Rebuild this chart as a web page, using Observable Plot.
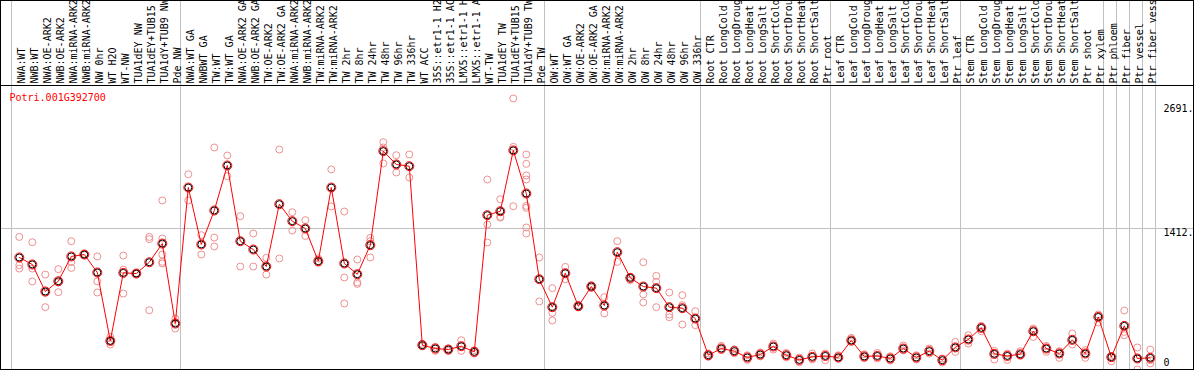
<!DOCTYPE html>
<html><head><meta charset="utf-8">
<script src="https://cdn.jsdelivr.net/npm/d3@7"></script>
<script src="https://cdn.jsdelivr.net/npm/@observablehq/plot@0.6"></script>
<style>
html,body{margin:0;padding:0;background:#fff;}
#chart svg{display:block;outline:1px solid #000;outline-offset:-1px;}
</style></head><body><div id="chart"></div>
<script>
const geneId = "Potri.001G392700";

const samples = [
  "NWA:WT","NWB:WT","NWA:OE-ARK2","NWB:OE-ARK2","NWA:miRNA-ARK2","NWB:miRNA-ARK2","NW 0hr","WT H2O","WT-NW","TUA1dEY NW","TUA1dEY+TUB15 NW","TUA1dY+TUB9 NW","Pde NW",
  "NWA:WT GA","NWBWT GA","TW:WT","TW:WT GA","NWA:OE-ARK2 GA","NWB:OE-ARK2 GA","TW:OE-ARK2","TW:OE-ARK2 GA","NWA:miRNA-ARK2","NWB:miRNA-ARK2","TW:miRNA-ARK2","TW:miRNA-ARK2","TW 2hr","TW 8hr","TW 24hr","TW 48hr","TW 96hr","TW 336hr","WT ACC","35S::etr1-1 H2O","35S::etr1-1 ACC","LMX5::etr1-1 H2O","LMX5::etr1-1 ACC","WT-TW","TUA1dEY TW","TUA1dEY+TUB15 TW","TUA1dY+TUB9 TW","Pde TW",
  "OW:WT","OW:WT GA","OW:OE-ARK2","OW:OE-ARK2 GA","OW:miRNA-ARK2","OW:miRNA-ARK2","OW 2hr","OW 8hr","OW 24hr","OW 48hr","OW 96hr","OW 336hr",
  "Root CTR","Root LongCold","Root LongDrought","Root LongHeat","Root LongSalt","Root ShortCold","Root ShortDrought","Root ShortHeat","Root ShortSalt","Ptr root",
  "Leaf CTR","Leaf LongCold","Leaf LongDrought","Leaf LongHeat","Leaf LongSalt","Leaf ShortCold","Leaf ShortDrought","Leaf ShortHeat","Leaf ShortSalt","Ptr leaf",
  "Stem CTR","Stem LongCold","Stem LongDrought","Stem LongHeat","Stem LongSalt","Stem ShortCold","Stem ShortDrought","Stem ShortHeat","Stem ShortSalt","Ptr shoot","Ptr xylem",
  "Ptr phloem","Ptr fiber","Ptr vessel","Ptr fiber vessel"
];

const means = [
  1127,1058,792,893,1137,1156,979,306,975,969,1080,1264,477,
  1815,1255,1589,2032,1287,1205,1038,1651,1484,1412,1090,1815,1068,962,1248,2173,2042,2025,264,231,221,254,198,1543,1582,2180,1756,913,
  638,972,647,841,654,1179,926,841,825,638,628,526,
  165,231,205,143,172,251,165,119,149,158,
  143,310,153,158,133,231,143,205,116,242,
  320,434,178,158,175,401,231,182,316,182,542,
  146,454,133,139
];

const replicates = [
  [1329,1051,1018],[1277,1018,891],[959,779,638],[1012,882,785],[1287,1083,1024],[1162,1156,1150],[1137,891,782],[345,303,271],[1146,1007,772],[973,969,965],[1329,1307,608],[1688,1314,1156,1083,1068],[526,428],
  [1946,1688],[1346,1156],[2209,1323,1235],[2130,1927],[1533,1038],[1363,1038],[1123,959],[2189,1117],[1572,1392],[1494,1339],[1117,1074],[1993,1629],[1579,930,674],[1107,881,867],[1320,1287,1127],[2261,2209,2052],[2133,1963],[2140,1914],[277,254],[247,208],[231,208],[313,208],[215,182],[1894,1451,1274],[1700,1526,1520],[2691,2215,1631],[2140,2048,1934,1894,1634,1615,1422,1363],[1127,694],
  [825,582,507],[1034,913],[657,638],[854,828],[736,576],[1287,1083],[936,903],[1080,763,684],[946,887,638],[782,566,539],[756,657,467],[598,461],
  [182,149],[257,215],[224,185],[165,119],[192,153],[280,221],[188,143],[143,96],[182,123],[182,116],
  [165,133],[336,296],[175,136],[188,133],[155,113],[261,212],[165,123],[231,182],[133,93],[296,198],
  [362,280],[454,401],[208,123],[182,119],[205,158],[428,345],[257,198],[205,139],[379,271],[215,139],[566,487],
  [158,106],[605,395,362],[241,133,25],[221,116,84]
];

// index of the first sample of each group (last entry closes the final group)
const groupStarts = [0,13,41,53,63,73,84,85,86,87,88];

const yTickValues = [2691, 1412, 0];
const yTickLabels = ["2691.", "1412.", "0"];

const meanRows = means.map((v, i) => ({i, v}));
const repRows = replicates.flatMap((arr, i) => arr.map(v => ({i, v})));

const mono = "'DejaVu Sans Mono', 'Liberation Mono', monospace";

const chart = Plot.plot({
  width: 1194,
  height: 370,
  marginTop: 85, marginBottom: 0, marginLeft: 0, marginRight: 0,
  x: {type: "linear", domain: [0, 87], range: [18.8, 1149.8], axis: null},
  y: {type: "linear", domain: [0, 2691], range: [371.5, 98], axis: null},
  style: {fontFamily: mono, fontSize: "10px", background: "#fff", color: "#000"},
  marks: [
    Plot.ruleY([yTickValues[1]], {stroke: "#c0c0c0", strokeOpacity: 1}),
    Plot.ruleX(groupStarts, {x: d => d - 0.6, stroke: "#c0c0c0", strokeOpacity: 1, insetTop: -85}),
    Plot.frame({stroke: "#000"}),
    Plot.dot(repRows, {x: "i", y: "v", r: 3.5, stroke: "#ee9090", strokeWidth: 1}),
    Plot.line(meanRows, {x: "i", y: "v", stroke: "#ff0000", strokeWidth: 1}),
    Plot.dot(meanRows, {x: "i", y: "v", r: 4.5, stroke: "#ff0000", strokeWidth: 1}),
    Plot.dot(meanRows, {x: "i", y: "v", r: 3.5, stroke: "#000", strokeWidth: 1}),
    Plot.text(samples, {x: (d, i) => i, frameAnchor: "top", rotate: -90, textAnchor: "start", dy: -2, dx: -1, fill: "#000", fontSize: 10}),
    Plot.text([geneId], {frameAnchor: "top-left", textAnchor: "start", lineAnchor: "top", dx: 9, dy: 8.5, fill: "#ff0000", fontSize: 10}),
    Plot.text([yTickLabels[0]], {y: [yTickValues[0]], frameAnchor: "right", textAnchor: "start", lineAnchor: "top", dx: -31, dy: 6.3, fill: "#000", fontSize: 10}),
    Plot.text([yTickLabels[1]], {y: [yTickValues[1]], frameAnchor: "right", textAnchor: "start", lineAnchor: "top", dx: -31, dy: 0.6, fill: "#000", fontSize: 10}),
    Plot.text([yTickLabels[2]], {y: [yTickValues[2]], frameAnchor: "right", textAnchor: "start", lineAnchor: "top", dx: -31, dy: -13.5, fill: "#000", fontSize: 10})
  ]
});
document.getElementById("chart").appendChild(chart);
</script></body></html>
